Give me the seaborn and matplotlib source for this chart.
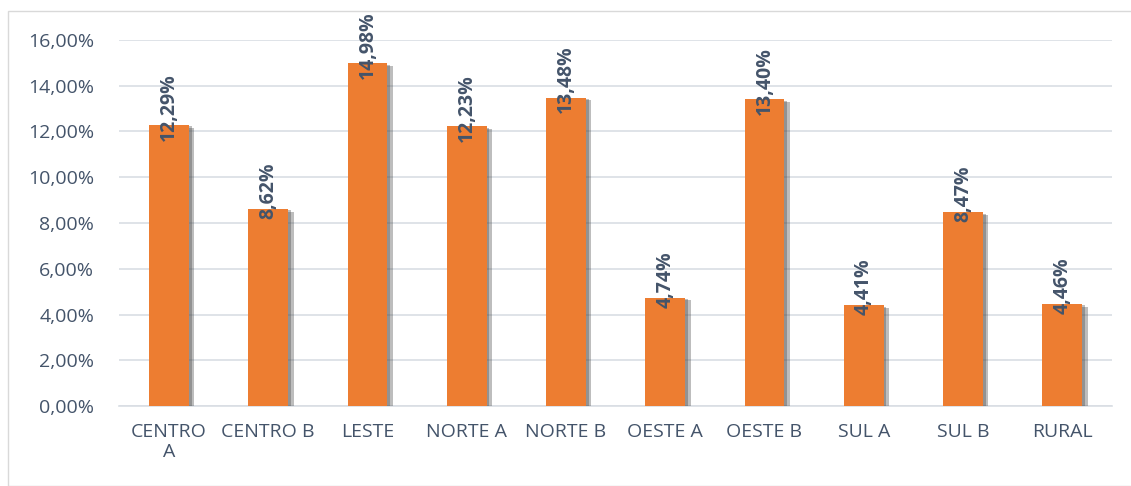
import matplotlib
matplotlib.use("Agg")
import matplotlib.pyplot as plt
import matplotlib.patheffects as pe
from matplotlib.patches import Rectangle
from matplotlib.ticker import FuncFormatter
import seaborn as sns
import pandas as pd

categories = ["CENTRO\nA", "CENTRO B", "LESTE", "NORTE A", "NORTE B",
              "OESTE A", "OESTE B", "SUL A", "SUL B", "RURAL"]
values = [12.29, 8.62, 14.98, 12.23, 13.48, 4.74, 13.40, 4.41, 8.47, 4.46]
yticks = [0, 2, 4, 6, 8, 10, 12, 14, 16]

BAR = "#ED7D31"
TXT = "#44546A"
GRID = "#D9DEE4"

sns.set_theme(style="white")
plt.rcParams["font.family"] = ["Open Sans", "DejaVu Sans"]

df = pd.DataFrame({"regiao": categories, "valor": values})

fig = plt.figure(figsize=(11.31, 4.86), dpi=100)
fig.patches.append(Rectangle((8 / 1131, 0), 1, 1 - 11 / 486, transform=fig.transFigure,
                             fill=False, edgecolor="#D9D9D9", linewidth=1.0))
ax = fig.add_axes([0.1055, 0.1646, 0.8776, 0.7531])

sns.barplot(data=df, x="regiao", y="valor", color=BAR, width=0.4,
            saturation=1, linewidth=0, ax=ax, zorder=3)
for bar in ax.patches:
    bar.set_path_effects([pe.SimplePatchShadow(offset=(4, -2), shadow_rgbFace="#444444", alpha=0.35),
                          pe.SimplePatchShadow(offset=(2, -1), shadow_rgbFace="#444444", alpha=0.35),
                          pe.Normal()])

for i, v in enumerate(values):
    ax.annotate(f"{v:.2f}%".replace(".", ","), (i, v), xytext=(0, 13),
                textcoords="offset points", rotation=90, ha="center", va="center",
                fontsize=14, fontweight="bold", color=TXT, zorder=5)

ax.set_ylim(0, 16)
ax.set_xlim(-0.5, len(categories) - 0.5)
ax.set_yticks(yticks)
ax.yaxis.set_major_formatter(FuncFormatter(lambda y, _: f"{y:.2f}%".replace(".", ",")))
ax.grid(axis="y", color=GRID, linewidth=1.2, zorder=0)
ax.set_axisbelow(True)
for s in ["top", "right", "left"]:
    ax.spines[s].set_visible(False)
ax.spines["bottom"].set_color(GRID)
ax.spines["bottom"].set_linewidth(1.2)
ax.tick_params(axis="both", length=0, labelsize=14, labelcolor=TXT)
ax.tick_params(axis="x", pad=12)
ax.tick_params(axis="y", pad=18)
ax.set_xlabel("")
ax.set_ylabel("")

fig.savefig("out.png", dpi=100)
